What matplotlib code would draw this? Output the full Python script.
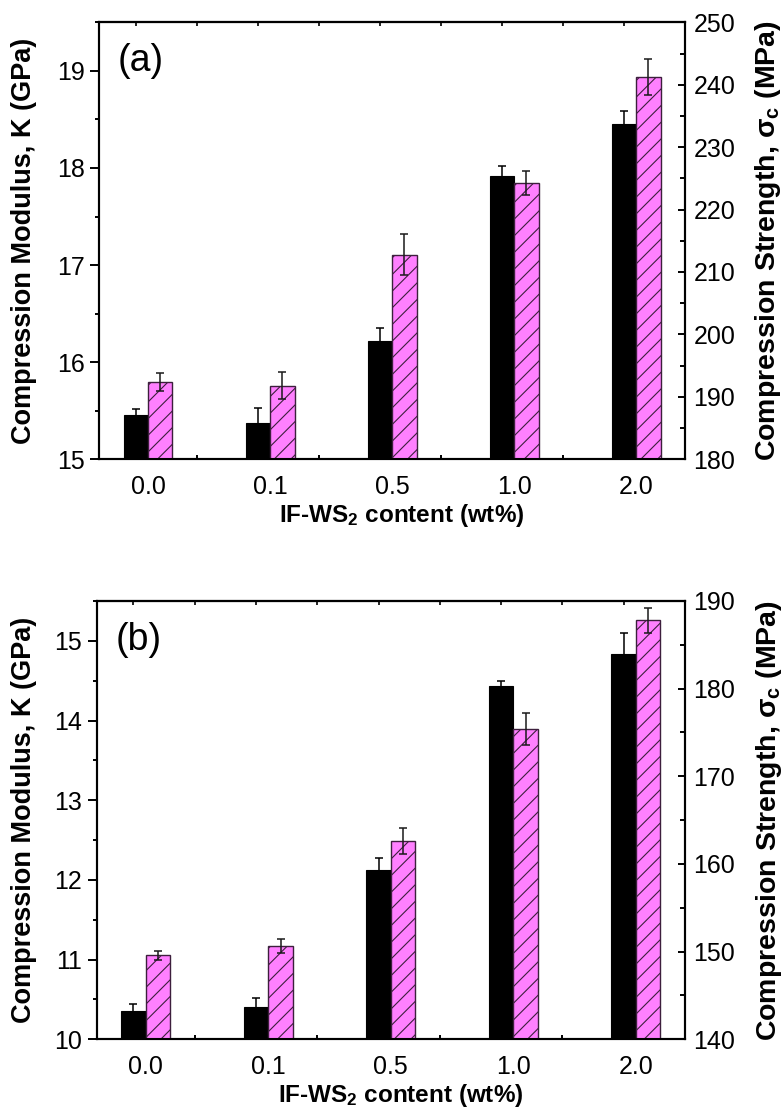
import numpy as np
import matplotlib
matplotlib.use('Agg')
import matplotlib.pyplot as plt
from matplotlib.ticker import MultipleLocator

plt.rcParams['font.family'] = ['Liberation Sans', 'DejaVu Sans']
plt.rcParams['mathtext.fontset'] = 'custom'
plt.rcParams['mathtext.rm'] = 'Liberation Sans:bold'
plt.rcParams['mathtext.it'] = 'Liberation Sans:bold'
plt.rcParams['mathtext.bf'] = 'Liberation Sans:bold'
plt.rcParams['mathtext.default'] = 'rm'
plt.rcParams['hatch.linewidth'] = 0.8

# data
categories = ['0.0', '0.1', '0.5', '1.0', '2.0']

mod_a = [15.46, 15.37, 16.22, 17.92, 18.45]
mod_a_err = [0.06, 0.16, 0.13, 0.10, 0.14]
str_a = [192.4, 191.8, 212.8, 224.2, 241.2]
str_a_err = [1.4, 2.2, 3.3, 1.9, 2.9]

mod_b = [10.36, 10.41, 12.12, 14.43, 14.84]
mod_b_err = [0.08, 0.11, 0.15, 0.07, 0.26]
str_b = [149.6, 150.6, 162.6, 175.4, 187.8]
str_b_err = [0.5, 0.8, 1.5, 1.8, 1.4]

PINK = '#ff80ff'
EDGE = '#3d1f3d'
W = 0.2


def panel(rect, tag, mod, mod_err, stren, stren_err, ylim1, ylim2, step2, label_x):
    ax = fig.add_axes(rect)
    ax2 = ax.twinx()
    x = np.arange(len(categories))

    ax.bar(x - W / 2, mod, W, color='black', edgecolor='black', linewidth=0.8, zorder=2)
    ax.errorbar(x - W / 2, mod, yerr=mod_err, fmt='none', ecolor='black',
                elinewidth=1.1, capsize=2.6, capthick=1.1, zorder=3)
    ax2.bar(x + W / 2, stren, W, color=PINK, edgecolor=EDGE, linewidth=1.0,
            hatch='//', zorder=2)
    ax2.errorbar(x + W / 2, stren, yerr=stren_err, fmt='none', ecolor='#1a1a1a',
                 elinewidth=1.1, capsize=2.6, capthick=1.1, zorder=3)

    ax.set_xlim(-0.4, 4.4)
    ax.set_ylim(*ylim1)
    ax2.set_ylim(*ylim2)

    ax.set_xticks(x, categories)
    ax.set_xticks([0.4, 1.4, 2.4, 3.4], minor=True)
    ax.tick_params(axis='x', which='major', length=0, pad=11.5, labelsize=18)
    ax.tick_params(axis='x', which='minor', direction='in', length=3.2, width=1.4)

    ax.yaxis.set_major_locator(MultipleLocator(1))
    ax.yaxis.set_minor_locator(MultipleLocator(0.5))
    ax.tick_params(axis='y', which='major', direction='out', length=6.5, width=1.4,
                   labelsize=18, pad=4)
    ax.tick_params(axis='y', which='minor', direction='out', length=3.2, width=1.4)

    ax2.yaxis.set_major_locator(MultipleLocator(step2))
    ax2.yaxis.set_minor_locator(MultipleLocator(step2 / 2))
    ax2.tick_params(axis='y', which='major', direction='in', length=5, width=1.4,
                    labelsize=18, pad=6)
    ax2.tick_params(axis='y', which='minor', direction='in', length=3.5, width=1.4)

    top = ax.secondary_xaxis('top')
    top.set_xticks(np.arange(-0.1, 4.4, 0.5))
    top.tick_params(direction='in', length=3.2, width=1.2, labeltop=False)

    for a in (ax, ax2, top):
        for s in a.spines.values():
            s.set_linewidth(1.5)

    ax.set_ylabel('Compression Modulus, K (GPa)', fontsize=19.5, fontweight='bold')
    ax.yaxis.set_label_coords(label_x, 0.5)
    ax2.set_ylabel('Compression Strength, σ$_c$ (MPa)', fontsize=20.5, fontweight='bold')
    ax2.yaxis.set_label_coords(1.117, 0.5)
    ax.set_xlabel('IF-WS$_2$ content (wt%)', fontsize=17.5, fontweight='bold')
    ax.xaxis.set_label_coords(0.517, -0.097)

    ax.text(0.032, 0.912, tag, transform=ax.transAxes, fontsize=27,
            ha='left', va='center')
    return ax


fig = plt.figure(figsize=(7.83, 11.15), dpi=100)

panel([0.1268, 0.5881, 0.748, 0.3919], '(a)', mod_a, mod_a_err, str_a, str_a_err,
      (15, 19.5), (180, 250), 10, -0.106)
panel([0.1235, 0.0679, 0.7513, 0.3931], '(b)', mod_b, mod_b_err, str_b, str_b_err,
      (10, 15.5), (140, 190), 10, -0.101)

fig.savefig('out.png', dpi=100)
